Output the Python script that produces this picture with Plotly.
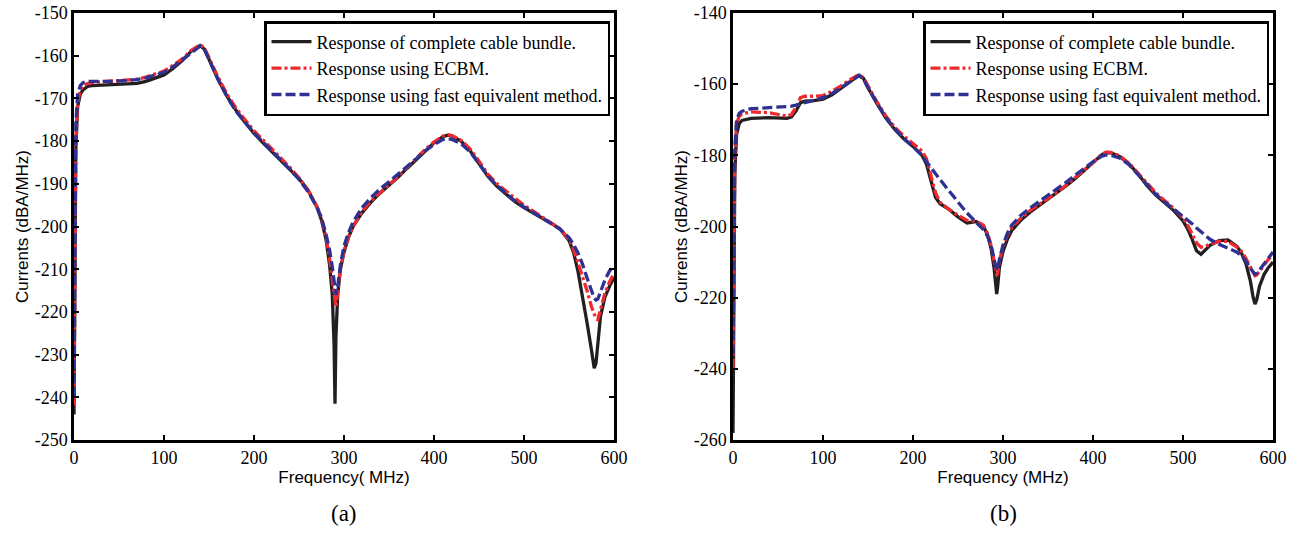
import plotly.graph_objects as go

# ---------------- Panel (a) ----------------
freq_a = [0, 1, 2, 4, 7, 10, 15, 20, 40, 60,
          70, 80, 90, 100, 110, 120, 130, 140, 145, 150,
          160, 170, 180, 190, 200, 210, 220, 230, 240, 250,
          260, 270, 275, 280, 284, 287, 289, 290, 291, 293,
          296, 300, 305, 310, 320, 330, 340, 350, 360, 370,
          380, 390, 400, 410, 415, 420, 430, 440, 450, 460,
          470, 480, 490, 500, 510, 520, 530, 540, 550, 555,
          560, 565, 570, 575, 578, 580, 582, 585, 590, 595,
          600]

complete_a = [-244, -205, -182, -172, -169, -168, -167.2, -167, -166.8, -166.7,
              -166.5, -166, -165.3, -164.5, -163, -161.2, -159, -157.6, -158.5, -161,
              -165.5, -169.5, -172.8, -175.6, -178.2, -180.4, -182.5, -184.6, -186.6, -188.8,
              -191.5, -195.5, -198.5, -203, -209, -216, -228, -241.5, -226, -216,
              -210, -206, -202.5, -200, -196.8, -194.3, -192.2, -190.4, -188.5, -186.4,
              -184.4, -182.3, -180.4, -179, -178.6, -178.8, -180, -182.2, -185.2, -188.3,
              -190.6, -192.5, -194.2, -195.6, -196.9, -198, -199.2, -200.6, -203.3, -206,
              -210.5, -216, -222.5, -229, -233.2, -232, -227, -221, -216.5, -214,
              -212]

ecbm_a = [-242, -200, -180, -171, -168, -167, -166.5, -166.3, -166, -165.8,
          -165.5, -165, -164.3, -163.6, -162.3, -160.8, -158.8, -157.4, -158.2, -160.6,
          -165, -169, -172.3, -175, -177.6, -179.7, -181.8, -184, -186.2, -188.6,
          -191.4, -195.3, -198, -202.5, -207.5, -212.5, -216.5, -218.5, -218.8, -215.5,
          -210, -205.8, -202.5, -200, -196.5, -194, -192, -190.2, -188.3, -186.2,
          -184.2, -182, -180.2, -178.8, -178.5, -178.7, -179.8, -181.8, -184.7, -187.8,
          -190, -191.8, -193.4, -195, -196.4, -197.7, -199, -200.5, -203, -205.3,
          -208.5, -211.5, -215, -218.8, -220.8, -221.6, -221.8, -219.5, -215.5, -213,
          -211]

fast_a = [-240, -195, -176, -169, -167, -166.3, -166, -166, -166, -165.8,
          -165.6, -165.2, -164.6, -163.9, -162.6, -161, -159.2, -157.8, -158.6, -161,
          -165.5, -169.6, -173, -175.6, -178.1, -180.2, -182.3, -184.4, -186.6, -189,
          -191.8, -195.5, -198, -201.8, -205.5, -209.5, -213, -215, -216, -214,
          -209, -204.6, -201.4, -199, -195.6, -193.2, -191.2, -189.5, -187.8, -186,
          -184.2, -182.3, -180.8, -179.6, -179.4, -179.6, -180.6, -182.5, -185.3, -188.2,
          -190.4, -192.2, -194, -195.4, -196.8, -198, -199.3, -200.6, -202.6, -204.2,
          -206.2, -208.8, -212, -215.3, -216.8, -217.2, -217, -215.3, -212.5, -210.4,
          -209.2]

# ---------------- Panel (b) ----------------
freq_b = [0, 1, 2, 4, 7, 10, 15, 20, 40, 55,
          60, 65, 70, 75, 80, 90, 100, 110, 120, 130,
          140, 145, 150, 160, 170, 180, 190, 200, 205, 210,
          215, 220, 225, 230, 240, 250, 260, 270, 278, 283,
          287, 290, 292, 293, 294, 296, 300, 305, 310, 320,
          330, 340, 350, 360, 370, 380, 390, 400, 410, 415,
          420, 430, 440, 450, 460, 470, 480, 490, 500, 505,
          510, 515, 520, 525, 530, 540, 550, 560, 565, 570,
          575, 578, 580, 582, 585, 590, 595, 600]

complete_b = [-258, -215, -185, -174, -171, -170.2, -169.8, -169.6, -169.4, -169.5,
              -169.6, -169.2, -167.5, -165.2, -164.8, -164.6, -164.2, -163, -161.2, -159.2,
              -157.5, -158.4, -161, -165.5, -169.6, -172.8, -175.4, -177.5, -178.6, -180,
              -182.5, -187, -191.8, -193.6, -195.2, -197.3, -199, -198.6, -199.8, -202.5,
              -206.5, -211.5, -216.5, -219, -217, -211.5, -207, -203.5, -201, -198.2,
              -196, -194.2, -192.3, -190.6, -188.6, -186.6, -184.4, -182.2, -179.8, -179.2,
              -179.3, -180.4, -182.4, -185.2, -188.5, -191.2, -193.4, -195.6, -198.4, -200.6,
              -203.5, -206.8, -207.8, -206.6, -205.3, -204, -203.8, -205.6, -207.5, -210.5,
              -215.5, -220, -221.8, -220.5, -216.8, -213.5, -211.5, -210]

ecbm_b = [-240, -205, -180, -171, -169, -168.3, -168, -167.8, -168, -168.6,
          -169, -168.5, -166.5, -163.8, -163.4, -163.4, -163.2, -162, -160.5, -158.7,
          -157.3, -158.2, -160.6, -165, -169, -172.2, -174.6, -176.6, -177.8, -178.8,
          -181, -185.5, -190.5, -193.2, -195.2, -196.8, -198.3, -198.5, -199.6, -202,
          -205.5, -209.5, -212.5, -213.8, -213.2, -209.8, -205.6, -202.3, -200.2, -197.6,
          -195.5, -193.8, -192, -190.4, -188.4, -186.3, -184.1, -182, -179.6, -179.1,
          -179.2, -180.2, -182.2, -185, -188, -190.6, -192.8, -195, -197.6, -199.5,
          -202, -204.6, -205.8, -205.6, -204.9, -204.2, -204.2, -205.8, -207, -209,
          -211.5, -213.2, -213.8, -213.6, -212.5, -210.8, -209.2, -207.8]

fast_b = [-236, -200, -178, -170, -168.2, -167.6, -167.2, -166.9, -166.6, -166.4,
          -166.3, -166.2, -165.9, -165.5, -165.1, -164.5, -163.8, -162.6, -161, -159.2,
          -157.6, -158.5, -161, -165.3, -169.4, -172.6, -175.3, -177.6, -178.8, -180,
          -181.8, -183.6, -185.2, -186.8, -190, -193.2, -196.2, -198.8, -200.8, -202.8,
          -205.5, -209, -211.5, -212.3, -212, -209.3, -205.2, -201.8, -199.5, -196.8,
          -194.8, -193, -191.2, -189.5, -187.6, -185.6, -183.6, -181.8, -180.2, -179.9,
          -180, -180.8, -182.6, -185.4, -188.4, -191, -193.2, -195.2, -197, -198,
          -199.2, -200.4, -201.5, -202.6, -203.6, -205, -206, -207.2, -208.2, -209.8,
          -211.8, -213, -213.4, -213.2, -212.2, -210.5, -208.8, -207.2]

series_names = ["Response of complete cable bundle.",
                "Response using ECBM.",
                "Response using fast equivalent method."]
xticks = [0, 100, 200, 300, 400, 500, 600]
yticks_a = [-150, -160, -170, -180, -190, -200, -210, -220, -230, -240, -250]
yticks_b = [-140, -160, -180, -200, -220, -240, -260]

colors = ["#231f20", "#ee2a2f", "#2e3192"]
dashes = ["solid", "10px,3px,3px,3px", "10px,4px"]
widths = [3.3, 3.3, 3.3]

fig = go.Figure()

panels = [
    ("x", "y", "legend", freq_a, [complete_a, ecbm_a, fast_a]),
    ("x2", "y2", "legend2", freq_b, [complete_b, ecbm_b, fast_b]),
]
for xa, ya, lg, fr, ser in panels:
    for i, vals in enumerate(ser):
        fig.add_trace(go.Scatter(
            x=fr, y=vals, mode="lines", name=series_names[i],
            line=dict(color=colors[i], width=widths[i], dash=dashes[i]),
            xaxis=xa, yaxis=ya, legend=lg, showlegend=True))

# The page body margin is removed by a small post-script, so the figure
# fills the 1298x533 window exactly.
W, H = 1298, 533


def px(xs):
    return xs / W


def py(ys):
    return 1 - ys / H


dom_a = [px(74), px(614)]
dom_b = [px(733), px(1273)]
ydom = [py(440), py(13)]

tickfont = dict(family="Liberation Serif", size=18, color="black")
titlefont = dict(family="Liberation Sans", size=17, color="black")


def xaxis(dom, anchor, title):
    return dict(domain=dom, anchor=anchor, range=[0, 600], tickvals=xticks,
                ticktext=[str(v) for v in xticks],
                ticks="inside", ticklen=5, tickwidth=1.5, tickcolor="black",
                showline=True, linecolor="black", linewidth=2.5, mirror="ticks",
                showgrid=False, zeroline=False, tickfont=tickfont, automargin=False,
                ticklabeloverflow="allow",
                title=dict(text=title, font=titlefont, standoff=4))


def yaxis(dom, anchor, rng, tv):
    return dict(domain=dom, anchor=anchor, range=rng, tickvals=tv,
                ticktext=[str(v) for v in tv],
                ticks="inside", ticklen=5, tickwidth=1.5, tickcolor="black",
                showline=True, linecolor="black", linewidth=2.5, mirror="ticks",
                showgrid=False, zeroline=False, tickfont=tickfont, automargin=False,
                ticklabeloverflow="allow",
                title=dict(text="Currents (dBA/MHz)", font=titlefont, standoff=2))


legend_common = dict(bgcolor="white", bordercolor="black", borderwidth=2.5,
                     font=dict(family="Liberation Serif", size=18, color="black"),
                     xanchor="right", yanchor="top", tracegroupgap=0,
                     itemwidth=40)

fig.update_layout(
    width=W, height=H,
    margin=dict(l=0, r=0, t=0, b=0, autoexpand=False),
    paper_bgcolor="white", plot_bgcolor="white",
    xaxis=xaxis(dom_a, "y", "Frequency( MHz)"),
    yaxis=yaxis(ydom, "x", [-250, -150], yticks_a),
    xaxis2=xaxis(dom_b, "y2", "Frequency (MHz)"),
    yaxis2=yaxis(ydom, "x2", [-260, -140], yticks_b),
    legend=dict(x=px(610), y=py(21), **legend_common),
    legend2=dict(x=px(1269), y=py(21), **legend_common),
    annotations=[
        dict(text="(a)", x=px(344), y=py(513), xref="paper", yref="paper",
             xanchor="center", yanchor="middle", showarrow=False,
             font=dict(family="Liberation Serif", size=23, color="black")),
        dict(text="(b)", x=px(1003), y=py(513), xref="paper", yref="paper",
             xanchor="center", yanchor="middle", showarrow=False,
             font=dict(family="Liberation Serif", size=23, color="black")),
    ],
)

fig.write_html(
    "out.html",
    config={"displayModeBar": False},
    post_script="document.body.style.margin='0px';"
                "document.body.style.overflow='hidden';",
)
